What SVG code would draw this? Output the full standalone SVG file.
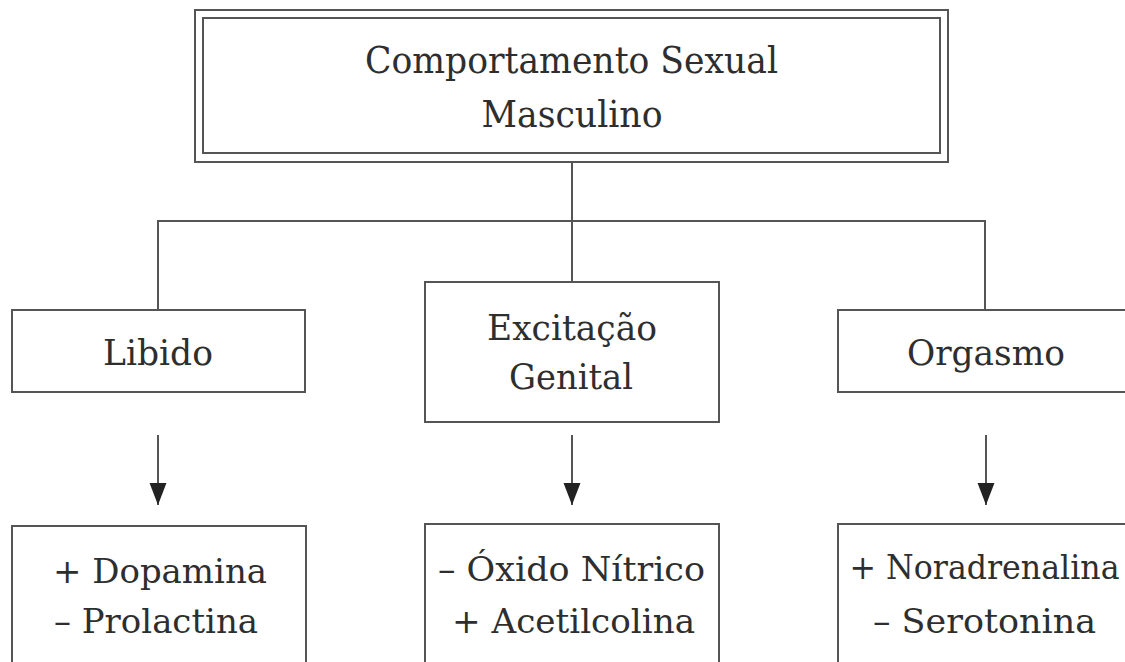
<svg xmlns="http://www.w3.org/2000/svg" width="1125" height="662" viewBox="0 0 1125 662">
<defs>
<style>
.box{fill:#fff;stroke:#555;stroke-width:2}
.ln{fill:none;stroke:#555;stroke-width:2}
.t{font-family:"DejaVu Serif","Liberation Serif",serif;fill:#2e2e2e;text-anchor:middle}
.t1{font-size:37px}
.t2{font-size:36px}
.t3{font-size:34px}
</style>
<marker id="ah" markerUnits="userSpaceOnUse" markerWidth="22" markerHeight="28" refX="26" refY="10" orient="auto" viewBox="0 0 26 20">
<path d="M0,0 L26,10 L0,20 Z" fill="#222"/>
</marker>
</defs>
<rect width="1125" height="662" fill="#fff"/>
<g id="connectors">
<path class="ln" d="M572,162 V282"/>
<path class="ln" d="M158,310 V221 H985 V310"/>
<path class="ln" d="M158,435 V505" marker-end="url(#ah)"/>
<path class="ln" d="M572,435 V505" marker-end="url(#ah)"/>
<path class="ln" d="M986,435 V505" marker-end="url(#ah)"/>
</g>
<g id="root">
<rect class="box" x="195" y="10" width="753" height="152"/>
<rect class="box" x="203" y="18" width="737" height="135"/>
<text class="t t1" x="571.5" y="73" textLength="413" lengthAdjust="spacingAndGlyphs">Comportamento Sexual</text>
<text class="t t1" x="572" y="127" textLength="181" lengthAdjust="spacingAndGlyphs">Masculino</text>
</g>
<g id="libido">
<rect class="box" x="12" y="310" width="293" height="82"/>
<text class="t t2" x="158" y="365" textLength="110" lengthAdjust="spacingAndGlyphs">Libido</text>
</g>
<g id="excitacao">
<rect class="box" x="425" y="282" width="294" height="140"/>
<text class="t t2" x="572" y="340" textLength="170" lengthAdjust="spacingAndGlyphs">Excitação</text>
<text class="t t2" x="571" y="389" textLength="124" lengthAdjust="spacingAndGlyphs">Genital</text>
</g>
<g id="orgasmo">
<rect class="box" x="838" y="310" width="294" height="82"/>
<text class="t t2" x="986" y="365" textLength="158" lengthAdjust="spacingAndGlyphs">Orgasmo</text>
</g>
<g id="libido-neuro">
<rect class="box" x="12" y="526" width="294" height="150"/>
<text class="t t3" x="160" y="583" textLength="214" lengthAdjust="spacingAndGlyphs">+ Dopamina</text>
<text class="t t3" x="156" y="633" textLength="204" lengthAdjust="spacingAndGlyphs">– Prolactina</text>
</g>
<g id="excitacao-neuro">
<rect class="box" x="425" y="524" width="294" height="150"/>
<text class="t t3" x="571.5" y="581" textLength="267" lengthAdjust="spacingAndGlyphs">– Óxido Nítrico</text>
<text class="t t3" x="573.5" y="633" textLength="243" lengthAdjust="spacingAndGlyphs">+ Acetilcolina</text>
</g>
<g id="orgasmo-neuro">
<rect class="box" x="838" y="524" width="294" height="150"/>
<text class="t t3" x="984.5" y="579" textLength="270" lengthAdjust="spacingAndGlyphs">+ Noradrenalina</text>
<text class="t t3" x="984.5" y="633" textLength="223" lengthAdjust="spacingAndGlyphs">– Serotonina</text>
</g>
</svg>
